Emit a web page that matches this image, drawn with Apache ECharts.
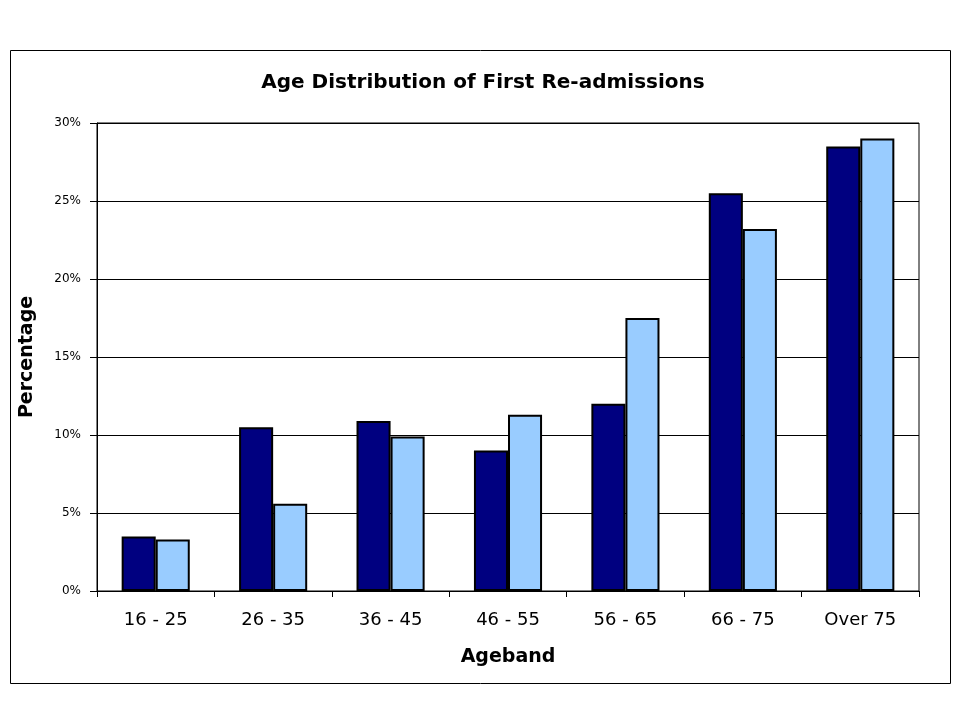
<!DOCTYPE html>
<html><head><meta charset="utf-8">
<script src="https://cdn.jsdelivr.net/npm/echarts@6/dist/echarts.min.js"></script>
<style>html,body{margin:0;padding:0;background:#fff}#c{width:959px;height:719px}</style>
</head><body><div id="c"></div>
<script>
const categories = ['16 - 25','26 - 35','36 - 45','46 - 55','56 - 65','66 - 75','Over 75'];
const seriesA = [3.5, 10.5, 10.9, 9.0, 12.0, 25.5, 28.5];
const seriesB = [3.3, 5.6, 9.9, 11.3, 17.5, 23.2, 29.0];
const titleText = 'Age Distribution of First Re-admissions';
const yName = 'Percentage';
const xName = 'Ageband';

const font = 'DejaVu Sans, sans-serif';
const chart = echarts.init(document.getElementById('c'));
chart.setOption({
  animation: false,
  backgroundColor: '#fff',
  title: {
    text: titleText, left: 478, top: 68, textAlign: 'center',
    textStyle: {fontFamily: font, fontSize: 20, fontWeight: 'bold', color: '#000'}
  },
  graphic: [{
    type: 'rect', shape: {x: 10.5, y: 50.5, width: 940, height: 633},
    style: {fill: 'none', stroke: '#000', lineWidth: 1}, z: -1
  }],
  grid: {left: 97, right: 40, top: 123, bottom: 128, show: true, borderColor: '#000', borderWidth: 1},
  xAxis: {
    type: 'category', data: categories,
    name: xName, nameLocation: 'middle', nameGap: 57,
    nameTextStyle: {fontFamily: font, fontSize: 19, fontWeight: 'bold', color: '#000'},
    axisLine: {lineStyle: {color: '#000', width: 1}},
    axisTick: {show: true, length: 6, lineStyle: {color: '#000'}},
    axisLabel: {fontFamily: font, fontSize: 18, color: '#000', margin: 20}
  },
  yAxis: {
    type: 'value', min: 0, max: 30, interval: 5,
    name: yName, nameLocation: 'middle', nameGap: 60, nameRotate: 90,
    nameTextStyle: {fontFamily: font, fontSize: 19, fontWeight: 'bold', color: '#000'},
    axisLine: {show: true, lineStyle: {color: '#000', width: 1}},
    axisTick: {show: true, length: 7, lineStyle: {color: '#000'}},
    splitLine: {lineStyle: {color: '#000', width: 1}},
    axisLabel: {fontFamily: font, fontSize: 12, color: '#000', margin: 16, formatter: '{value}%'}
  },
  series: [
    {type: 'bar', data: seriesA, barGap: '0%', barCategoryGap: '42%',
     itemStyle: {color: '#000080', borderColor: '#000', borderWidth: 2}},
    {type: 'bar', data: seriesB,
     itemStyle: {color: '#99CCFF', borderColor: '#000', borderWidth: 2}}
  ]
});
</script></body></html>
